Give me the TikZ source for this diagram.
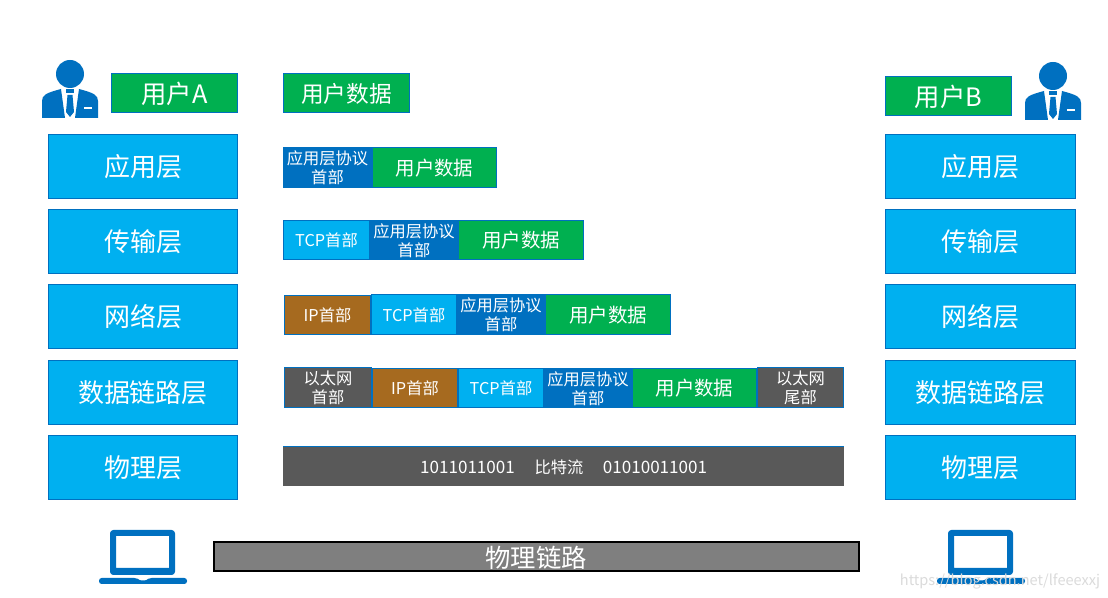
\documentclass[tikz,border=0pt]{standalone}
\usepackage{fontspec}
\setmainfont{Noto Sans CJK SC}
\definecolor{lblue}{HTML}{00B0F0}
\definecolor{dblue}{HTML}{0070C0}
\definecolor{ugreen}{HTML}{00B050}
\definecolor{ubrown}{HTML}{A66A1F}
\definecolor{ugrey}{HTML}{595959}
\definecolor{lgrey}{HTML}{7F7F7F}
\tikzset{
  bx/.style={draw=dblue,line width=.75pt,text=white,align=center,inner sep=0pt,outer sep=0pt},
  layertxt/.style={font=\fontsize{19.5}{23}\selectfont},
  nametxt/.style={font=\fontsize{19}{23}\selectfont},
  usertxt/.style={font=\fontsize{17}{21}\selectfont},
  datatxt/.style={font=\fontsize{14.6}{18}\selectfont},
  hdrtxt/.style={font=\fontsize{12.2}{14.2}\selectfont},
  bittxt/.style={font=\fontsize{12.8}{15}\selectfont},
  icon/.style={fill=dblue,draw=none},
}
% name, x0, y0, x1, y1, colour, style, text
\newcommand{\bx}[8]{%
  \pgfmathsetmacro{\cxx}{(#2+#4)/2}\pgfmathsetmacro{\cyy}{(#3+#5)/2+.5}%
  \pgfmathsetmacro{\wdd}{(#4-#2-1)*.75}\pgfmathsetmacro{\htt}{(#5-#3-1)*.75}%
  \node[bx,fill=#6,#7,minimum width=\wdd pt,minimum height=\htt pt] (#1) at (\cxx,\cyy) {#8};}
\newcommand{\person}[2]{%
  \begin{scope}[shift={(#1,#2)}]
    \fill[icon] (0,-15) circle (14);
    \fill[icon] (-28,29) -- (-28,12) .. controls (-28,6) and (-24,4) .. (-9,0) -- (-5,29) -- cycle;
    \fill[icon] (28,29) -- (28,12) .. controls (28,6) and (24,4) .. (9,0) -- (5,29) -- cycle;
    \fill[icon] (-4,0) -- (4,0) -- (4,4) -- (-4,4) -- cycle;
    \fill[icon] (-2.5,6) -- (2.5,6) -- (4,23) -- (0,28) -- (-4,23) -- cycle;
    \fill[white] (14,18) rectangle (22,20);
  \end{scope}}
\newcommand{\laptop}[1]{%
  \begin{scope}[shift={(#1,0)}]
    \fill[icon,even odd rule,rounded corners=2.5] (0,530) -- (65,530) -- (65,575) -- (0,575) -- cycle
       [sharp corners] (6,536) rectangle (59,568);
    \fill[icon,rounded corners=2] (-11,578) -- (27,578) -- (29,580.5) -- (37,580.5) -- (39,578) -- (77,578) -- (77,584) -- (-11,584) -- cycle;
  \end{scope}}
\begin{document}
\begin{tikzpicture}[x=.75pt,y=-.75pt]
\useasboundingbox (0,0) rectangle (1108,598);
\fill[white] (0,0) rectangle (1108,598);
\person{70}{89}
\person{1053}{91}
\bx{userA}{111}{73}{238}{113}{ugreen}{nametxt}{用户A}
\bx{userB}{885}{76}{1012}{116}{ugreen}{nametxt}{用户B}
\bx{udata}{283}{73}{410}{113}{ugreen}{usertxt}{用户数据}
% left stack
\bx{la}{48}{134}{238}{199}{lblue}{layertxt}{应用层}
\bx{lb}{48}{209}{238}{274}{lblue}{layertxt}{传输层}
\bx{lc}{48}{284}{238}{349}{lblue}{layertxt}{网络层}
\bx{ld}{48}{360}{238}{425}{lblue}{layertxt}{数据链路层}
\bx{le}{48}{435}{238}{500}{lblue}{layertxt}{物理层}
% right stack
\bx{ra}{885}{134}{1076}{199}{lblue}{layertxt}{应用层}
\bx{rb}{885}{209}{1076}{274}{lblue}{layertxt}{传输层}
\bx{rc}{885}{284}{1076}{349}{lblue}{layertxt}{网络层}
\bx{rd}{885}{360}{1076}{425}{lblue}{layertxt}{数据链路层}
\bx{re}{885}{435}{1076}{500}{lblue}{layertxt}{物理层}
% row 2
\bx{bb}{372}{147}{497}{188}{ugreen}{datatxt}{用户数据}
\bx{ba}{283}{147}{372}{188}{dblue}{hdrtxt}{应用层协议\\首部}
% row 3
\bx{cc}{458}{220}{584}{260}{ugreen}{datatxt}{用户数据}
\bx{cb}{370}{220}{458}{260}{dblue}{hdrtxt}{应用层协议\\首部}
\bx{ca}{283}{220}{370}{260}{lblue}{hdrtxt}{TCP首部}
% row 4
\bx{dd}{545}{294}{671}{335}{ugreen}{datatxt}{用户数据}
\bx{dc}{457}{294}{545}{335}{dblue}{hdrtxt}{应用层协议\\首部}
\bx{db}{371}{294}{457}{335}{lblue}{hdrtxt}{TCP首部}
\bx{da}{284}{295}{371}{335}{ubrown}{hdrtxt}{IP首部}
% row 5
\bx{ef}{757}{367}{844}{408}{ugrey}{hdrtxt}{以太网\\尾部}
\bx{ee}{632}{368}{757}{408}{ugreen}{datatxt}{用户数据}
\bx{ed}{544}{368}{632}{408}{dblue}{hdrtxt}{应用层协议\\首部}
\bx{ec}{458}{368}{544}{408}{lblue}{hdrtxt}{TCP首部}
\bx{eb}{372}{368}{458}{408}{ubrown}{hdrtxt}{IP首部}
\bx{ea}{284}{367}{372}{408}{ugrey}{hdrtxt}{以太网\\首部}
% row 6
\node[fill=ugrey,minimum width=420.75pt,minimum height=30pt,inner sep=0pt,outer sep=0pt] (bits) at (563.5,466) {};
\draw[dblue,line width=1pt] ([yshift=-.3pt]bits.north west) -- ([yshift=-.3pt]bits.north east);
\node[text=white,bittxt,anchor=center] (bitsa) at (467.5,467) {1011011001};
\node[text=white,hdrtxt,anchor=center] (bitsb) at (559,467) {比特流};
\node[text=white,bittxt,anchor=center] (bitsc) at (655,467) {01010011001};
% physical link
\node[draw=black,line width=1.5pt,fill=lgrey,minimum width=483.75pt,minimum height=21.75pt,inner sep=0pt] (link) at (536,557) {};
\node[text=white,font=\fontsize{19}{23}\selectfont,inner sep=0pt] (linktxt) at (536,558) {物理链路};
\laptop{110}
\laptop{948}
\node[text=black!14,font=\fontsize{10.9}{14}\selectfont,anchor=center] (mark) at (1000,581) {https://blog.csdn.net/lfeeexxj};
\end{tikzpicture}
\end{document}
